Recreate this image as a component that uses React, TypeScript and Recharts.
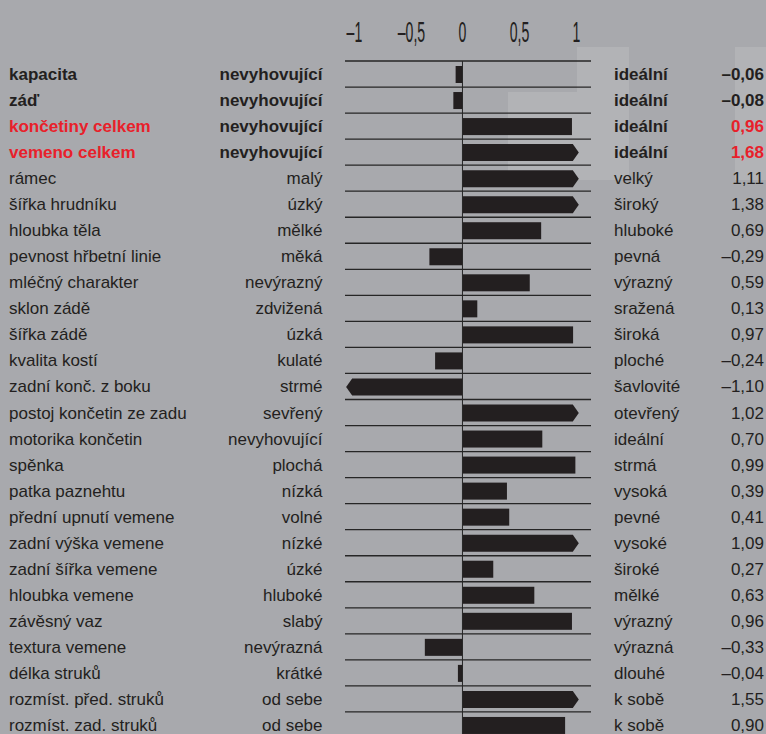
import React from "react";
import {
  Bar,
  BarChart,
  CartesianGrid,
  ReferenceLine,
  XAxis,
  YAxis,
} from "recharts";

const TRAITS = [
  "kapacita",
  "záď",
  "končetiny celkem",
  "vemeno celkem",
  "rámec",
  "šířka hrudníku",
  "hloubka těla",
  "pevnost hřbetní linie",
  "mléčný charakter",
  "sklon zádě",
  "šířka zádě",
  "kvalita kostí",
  "zadní konč. z boku",
  "postoj končetin ze zadu",
  "motorika končetin",
  "spěnka",
  "patka paznehtu",
  "přední upnutí vemene",
  "zadní výška vemene",
  "zadní šířka vemene",
  "hloubka vemene",
  "závěsný vaz",
  "textura vemene",
  "délka struků",
  "rozmíst. před. struků",
  "rozmíst. zad. struků",
];

const LOW_LABELS = [
  "nevyhovující",
  "nevyhovující",
  "nevyhovující",
  "nevyhovující",
  "malý",
  "úzký",
  "mělké",
  "měká",
  "nevýrazný",
  "zdvižená",
  "úzká",
  "kulaté",
  "strmé",
  "sevřený",
  "nevyhovující",
  "plochá",
  "nízká",
  "volné",
  "nízké",
  "úzké",
  "hluboké",
  "slabý",
  "nevýrazná",
  "krátké",
  "od sebe",
  "od sebe",
];

const HIGH_LABELS = [
  "ideální",
  "ideální",
  "ideální",
  "ideální",
  "velký",
  "široký",
  "hluboké",
  "pevná",
  "výrazný",
  "sražená",
  "široká",
  "ploché",
  "šavlovité",
  "otevřený",
  "ideální",
  "strmá",
  "vysoká",
  "pevné",
  "vysoké",
  "široké",
  "mělké",
  "výrazný",
  "výrazná",
  "dlouhé",
  "k sobě",
  "k sobě",
];

const VALUES = [
  -0.06, -0.08, 0.96, 1.68, 1.11, 1.38, 0.69, -0.29, 0.59, 0.13, 0.97, -0.24,
  -1.1, 1.02, 0.7, 0.99, 0.39, 0.41, 1.09, 0.27, 0.63, 0.96, -0.33, -0.04, 1.55,
  0.9,
];

const X_TICKS = [-1, -0.5, 0, 0.5, 1];

const BOLD_ROWS = [0, 1, 2, 3];
const RED_ROWS = [2, 3];

// bars longer than the scale are cut off and get an arrow head
const CAP = 1.02;

const INK = "#231f20";
const RED = "#e8202a";
const FONT = "'Liberation Sans', Arial, Helvetica, sans-serif";

const data = TRAITS.map((trait, i) => ({
  trait,
  value: VALUES[i],
  shown: Math.max(-CAP, Math.min(CAP, VALUES[i])),
}));

const fmt = (v: number, digits: number) => {
  const s = Math.abs(v).toFixed(digits).replace(".", ",");
  return v < 0 ? "\u2013" + s : s;
};

const fmtTick = (v: number) => {
  const s = String(Math.abs(v)).replace(".", ",");
  return v < 0 ? "\u2013" + s : s;
};

function LeftTick({ y, payload }: any) {
  const i = payload.index;
  const bold = BOLD_ROWS.includes(i);
  return (
    <g fontFamily={FONT} fontSize={17} fontWeight={bold ? 700 : 400}>
      <text x={9} y={y + 6} fill={RED_ROWS.includes(i) ? RED : INK}>
        {TRAITS[i]}
      </text>
      <text x={322.5} y={y + 6} textAnchor="end" fill={INK}>
        {LOW_LABELS[i]}
      </text>
    </g>
  );
}

function RightTick({ y, payload }: any) {
  const i = payload.index;
  const bold = BOLD_ROWS.includes(i);
  return (
    <g fontFamily={FONT} fontSize={17} fontWeight={bold ? 700 : 400}>
      <text x={614} y={y + 6} fill={INK}>
        {HIGH_LABELS[i]}
      </text>
      <text
        x={764}
        y={y + 6}
        textAnchor="end"
        fill={RED_ROWS.includes(i) ? RED : INK}
      >
        {fmt(VALUES[i], 2)}
      </text>
    </g>
  );
}

function TopTick({ x, payload }: any) {
  const v = payload.value;
  return (
    <g transform={`translate(${x + (v < 0 ? 6 : 0)},41.5) scale(0.47,1)`}>
      <text
        x={0}
        y={0}
        textAnchor="middle"
        fontFamily={FONT}
        fontSize={30}
        fill={INK}
      >
        {fmtTick(v)}
      </text>
    </g>
  );
}

function ArrowBar(props: any) {
  const { x, y, width, height, payload } = props;
  const x0 = Math.min(x, x + width);
  const x1 = Math.max(x, x + width);
  const v = payload.value;
  if (Math.abs(v) <= 1) {
    return <rect x={x0} y={y} width={x1 - x0} height={height} fill={INK} />;
  }
  const head = 6;
  const mid = y + height / 2;
  const pts =
    v > 0
      ? [
          [x0, y],
          [x1 - head, y],
          [x1, mid],
          [x1 - head, y + height],
          [x0, y + height],
        ]
      : [
          [x1, y],
          [x0 + head, y],
          [x0, mid],
          [x0 + head, y + height],
          [x1, y + height],
        ];
  return <polygon points={pts.map((p) => p.join(",")).join(" ")} fill={INK} />;
}

export default function App() {
  const rows = TRAITS.length;
  return (
    <div
      style={{
        position: "absolute",
        top: 0,
        left: 0,
        width: 766,
        height: 734,
        overflow: "hidden",
        background: "#a8a9ad",
      }}
    >
      {/* faint logo watermark behind the chart */}
      <svg
        width={766}
        height={734}
        style={{ position: "absolute", top: 0, left: 0 }}
      >
        <g fill="#b2b3b6">
          <rect x={577} y={47} width={52} height={133} />
          <rect x={508} y={92} width={69} height={88} />
          <rect x={735} y={47} width={31} height={133} />
        </g>
      </svg>
      <div style={{ position: "absolute", top: 0, left: 0 }}>
        <BarChart
          width={766}
          height={738}
          data={data}
          layout="vertical"
          margin={{ top: 0, right: 0, bottom: 0, left: 0 }}
          barSize={17}
        >
          <CartesianGrid
            vertical={false}
            stroke="#262626"
            strokeWidth={1.3}
            horizontalCoordinatesGenerator={({ offset }: any) =>
              Array.from(
                { length: rows + 1 },
                (_, i) => offset.top + (i * offset.height) / rows
              )
            }
          />
          <XAxis
            type="number"
            orientation="top"
            domain={[-1.03, 1.127]}
            ticks={X_TICKS}
            allowDataOverflow
            axisLine={false}
            tickLine={false}
            height={61}
            tick={<TopTick />}
            interval={0}
          />
          <YAxis
            yAxisId="left"
            type="category"
            dataKey="trait"
            width={345}
            axisLine={false}
            tickLine={false}
            interval={0}
            tick={<LeftTick />}
          />
          <YAxis
            yAxisId="right"
            orientation="right"
            type="category"
            dataKey="trait"
            width={175}
            axisLine={false}
            tickLine={false}
            interval={0}
            tick={<RightTick />}
          />
          <Bar
            yAxisId="left"
            dataKey="shown"
            shape={<ArrowBar />}
            isAnimationActive={false}
          />
          <ReferenceLine
            yAxisId="left"
            x={0}
            stroke="#262626"
            strokeWidth={1}
          />
        </BarChart>
      </div>
    </div>
  );
}
